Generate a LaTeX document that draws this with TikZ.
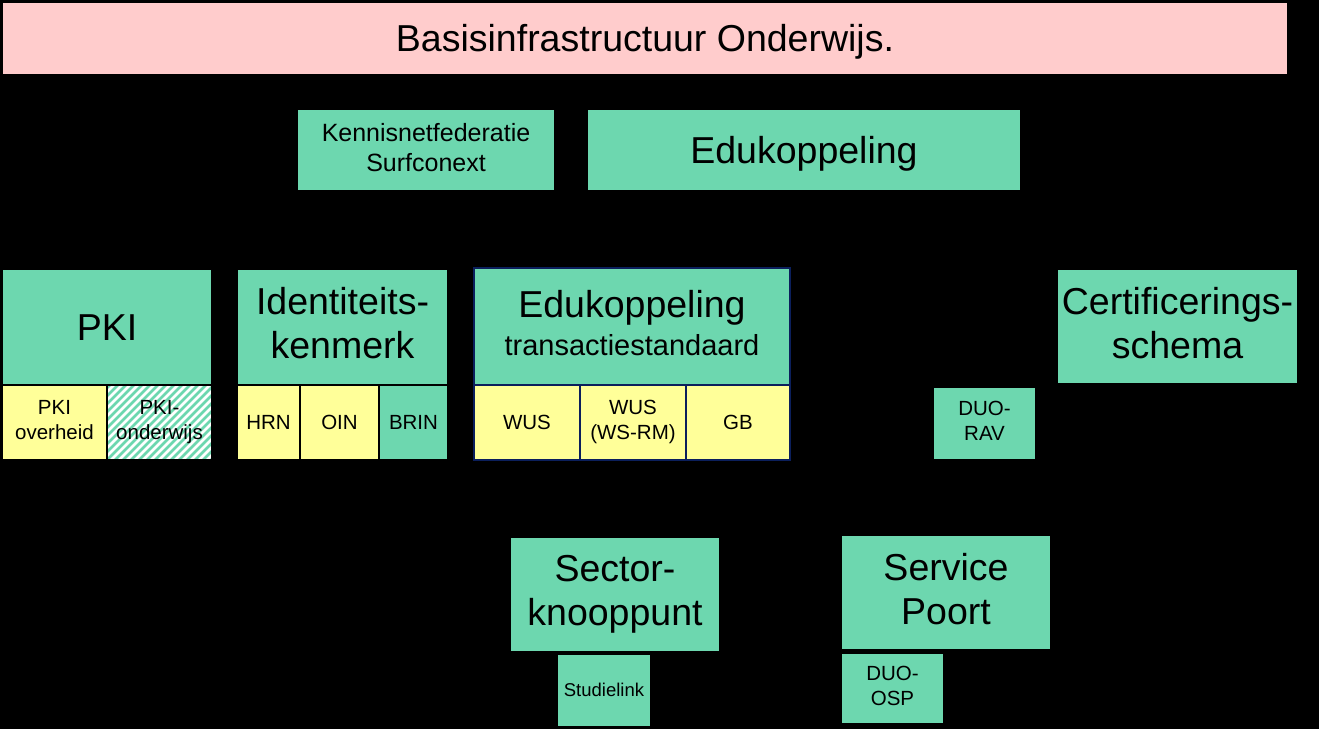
\documentclass[tikz,border=0pt]{standalone}
\usepackage{fontspec}
\setmainfont{Liberation Sans}
\usetikzlibrary{positioning}
\definecolor{mint}{HTML}{6DD7AF}
\definecolor{paleyellow}{HTML}{FFFF99}
\definecolor{blush}{HTML}{FFCCCC}
\definecolor{navy}{HTML}{0B1F5C}
\newcommand\linestrut{\rule[-0.212em]{0pt}{1.117em}}
\tikzset{
  tile/.style={
    draw=black,
    line width=1.5pt,
    fill=mint,
    inner sep=0pt,
    outer sep=0pt,
    align=center,
    anchor=north west,
    execute at begin node=\linestrut,
    execute at end node=\linestrut,
    font=\fontsize{37.5}{44}\selectfont
  },
  smalltile/.style={
    tile,
    minimum height=75pt,
    font=\fontsize{20.5}{25}\selectfont
  },
  yellowtile/.style={smalltile,fill=paleyellow},
  navytile/.style={draw=navy,line width=2pt}
}

\begin{document}
\begin{tikzpicture}[x=1pt,y=-1pt]
\useasboundingbox (0,0) rectangle (1319,729);
\fill[black] (0,0) rectangle (1319,729);

% top layer
\node[tile,fill=blush,minimum width=1286pt,minimum height=73pt] (basis) at (2,2) {Basisinfrastructuur Onderwijs.};
\node[tile,minimum width=258pt,minimum height=82pt,font=\fontsize{25}{30}\selectfont] (kennisnet) at (297,109) {Kennisnetfederatie\\Surfconext};
\node[tile,minimum width=434pt,minimum height=82pt] (edukop) at (587,109) {Edukoppeling};

% PKI
\node[tile,minimum width=210pt,minimum height=116pt] (pki) at (2,269) {PKI};
\node[yellowtile,minimum width=105pt] (pkioverheid) at (pki.south west) {PKI\\overheid};
\node[smalltile,fill=white,minimum width=105pt,right=0pt of pkioverheid] (pkionderwijs) {};
\begin{scope}
  \clip (pkionderwijs.south west) rectangle (pkionderwijs.north east);
  \foreach \k in {-80,-72,...,110}
    \draw[mint,line width=2.8pt] ([xshift=\k pt]pkionderwijs.south west) -- ++(90pt,90pt);
\end{scope}
\draw[black,line width=1.5pt] (pkionderwijs.south west) rectangle (pkionderwijs.north east);
\node[font=\fontsize{20.5}{25}\selectfont,align=center] at (pkionderwijs.center) {PKI-\\onderwijs};

% identiteitskenmerk
\node[tile,minimum width=211pt,minimum height=116pt] (ident) at (237,269) {Identiteits-\\kenmerk};
\node[yellowtile,minimum width=63pt] (hrn) at (ident.south west) {HRN};
\node[yellowtile,minimum width=79pt,right=0pt of hrn] (oin) {OIN};
\node[smalltile,minimum width=69pt,right=0pt of oin] (brin) {BRIN};

% transactiestandaard
\node[tile,navytile,minimum width=316pt,minimum height=117pt] (ekts) at (474,268) {Edukoppeling\\[-6pt]\fontsize{29}{34}\selectfont transactiestandaard};
\node[yellowtile,navytile,minimum width=106pt] (wus) at (ekts.south west) {WUS};
\node[yellowtile,navytile,minimum width=106pt,right=0pt of wus] (wusrm) {WUS\\(WS-RM)};
\node[yellowtile,navytile,minimum width=104pt,right=0pt of wusrm] (gb) {GB};

\node[smalltile,minimum width=103pt,minimum height=73pt] (duorav) at (933,387) {DUO-\\RAV};
\node[tile,minimum width=241pt,minimum height=115pt] (certschema) at (1057,269) {Certificerings-\\schema};

% bottom layer
\node[tile,minimum width=210pt,minimum height=115pt] (sector) at (510,537) {Sector-\\knooppunt};
\node[smalltile,minimum width=94pt,minimum height=73pt,font=\fontsize{18.5}{22}\selectfont] (studielink) at (557,654) {Studielink};
\node[tile,minimum width=210pt,minimum height=115pt] (service) at (841,535) {Service\\Poort};
\node[smalltile,minimum width=103pt,minimum height=71pt] (duoosp) at (841,653) {DUO-\\OSP};
\end{tikzpicture}
\end{document}
